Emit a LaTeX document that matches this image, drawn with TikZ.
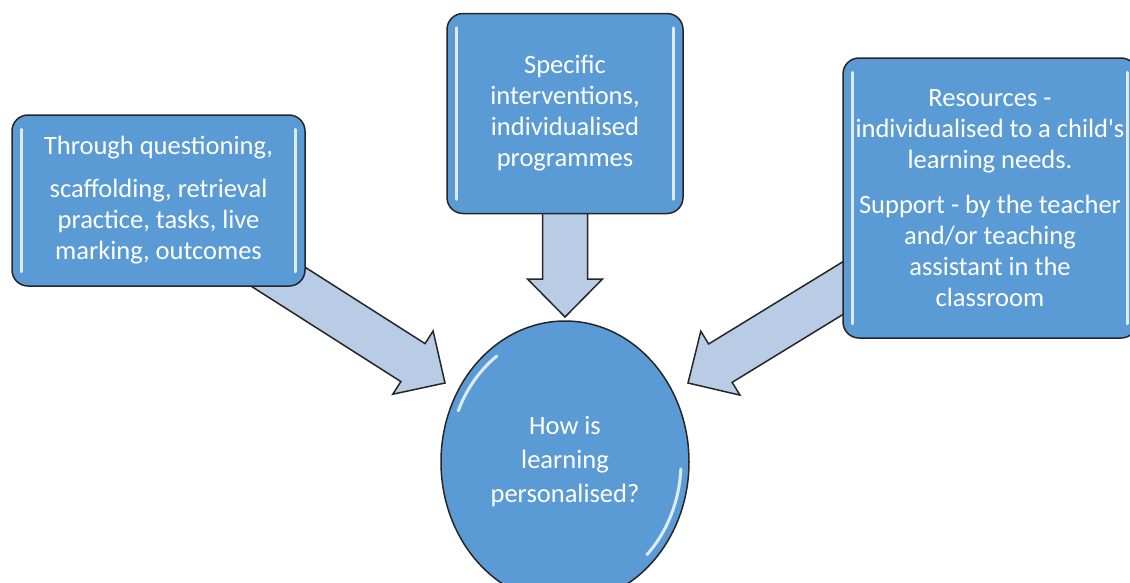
\documentclass[tikz,border=0pt]{standalone}
\usepackage{fontspec}
\setmainfont{Carlito}
\usetikzlibrary{positioning, calc, shapes.geometric, backgrounds}
\definecolor{topiccolor}{RGB}{91, 155, 213}
\definecolor{arrowcolor}{RGB}{184, 204, 230}
\definecolor{glosscolor}{RGB}{222, 235, 247}

\begin{document}
\begin{tikzpicture}[
    x=1pt, y=-1pt,
    topic/.style={draw=black!85, line width=1.5pt, fill=topiccolor, rounded corners=16pt, text=white, align=center, inner sep=0pt, font=\fontsize{26.5}{31}\selectfont},
    bubble/.style={ellipse, draw=black!85, line width=1.5pt, fill=topiccolor, text=white, align=center, inner sep=0pt, minimum width=248pt, minimum height=282pt, font=\fontsize{26.5}{34}\selectfont},
    fatarrow/.style={draw=black!85, line width=1.5pt, fill=arrowcolor, line join=miter},
    gloss/.style={draw=glosscolor, line width=3pt, line cap=round}
]
    \useasboundingbox (0,0) rectangle (1130,582);

    % Central question
    \node[bubble] (question) at (565,462) {How is\\learning\\personalised?};

    % Surrounding boxes
    \node[topic, minimum width=293pt, minimum height=171pt] (left) at (158.5,200.5)
        {Through questioning,\\[12pt]scaffolding, retrieval\\practice, tasks, live\\marking, outcomes};
    \node[topic, minimum width=236pt, minimum height=200pt, above=106pt of question] (mid)
        {Specific\\interventions,\\individualised\\programmes};
    \node[topic, minimum width=294pt, minimum height=280pt] (right) at (990,198)
        {Resources -\\individualised to a child\textquotesingle s\\learning needs.\\[14pt]Support - by the teacher\\and/or teaching\\assistant in the\\classroom};

    % Arrow tips
    \coordinate (tipL) at (445,383);
    \coordinate (tipM) at (565,317);
    \coordinate (tipR) at (688,383);

    % Block arrows, behind the boxes
    \begin{scope}[on background layer]
        \foreach \from/\tip in {left/tipL, mid/tipM, right/tipR} {
            \coordinate (head) at ($(\tip)!38pt!(\from)$);
            \draw[fatarrow] ($(\from)!22.5pt!90:(\tip)$) -- ($(head)!22.5pt!90:(\tip)$)
                -- ($(head)!37.5pt!90:(\tip)$) -- (\tip) -- ($(head)!37.5pt!-90:(\tip)$)
                -- ($(head)!22.5pt!-90:(\tip)$) -- ($(\from)!22.5pt!-90:(\tip)$) -- cycle;
        }
    \end{scope}

    % Glossy edges
    \foreach \n in {left, mid, right} {
        \draw[gloss] ([shift={(10pt,-15pt)}]\n.north west) -- ([shift={(10pt,15pt)}]\n.south west);
        \draw[gloss] ([shift={(-10pt,-15pt)}]\n.north east) -- ([shift={(-10pt,15pt)}]\n.south east);
    }
    \draw[gloss] (question.center) ++(126:116pt and 131pt) arc[start angle=126, end angle=157, x radius=116pt, y radius=131pt];
    \draw[gloss] (question.center) ++(-3:116pt and 131pt) arc[start angle=-3, end angle=-45, x radius=116pt, y radius=131pt];
\end{tikzpicture}
\end{document}
